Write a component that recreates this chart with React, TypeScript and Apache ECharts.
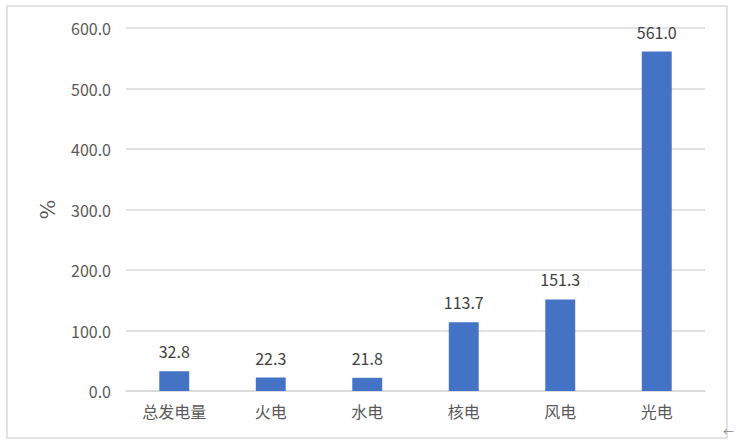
import React, { useEffect, useRef } from "react";
import * as echarts from "echarts";

const categories = ["总发电量", "火电", "水电", "核电", "风电", "光电"];
const values = [32.8, 22.3, 21.8, 113.7, 151.3, 561.0];
const yTicks = [0, 100, 200, 300, 400, 500, 600];

export default function App() {
  const ref = useRef<HTMLDivElement>(null);
  useEffect(() => {
    const chart = echarts.init(ref.current!, null, { renderer: "svg" });
    const font = "'Microsoft YaHei', 'Noto Sans CJK SC', sans-serif";
    chart.setOption({
      animation: false,
      backgroundColor: "#ffffff",
      graphic: [
        {
          type: "rect",
          shape: { x: 7, y: 6, width: 720, height: 432 },
          style: { fill: "none", stroke: "#d9d9d9", lineWidth: 1.5 },
          silent: true,
        },
        {
          type: "text",
          x: 723,
          y: 425,
          style: { text: "←", fill: "#8a8a8a", fontSize: 11, fontFamily: font },
        },
      ],
      grid: { left: 126, right: 32, top: 28, bottom: 54 },
      xAxis: {
        type: "category",
        data: categories,
        axisLine: { lineStyle: { color: "#d9d9d9", width: 1.5 } },
        axisTick: { show: false },
        axisLabel: { color: "#595959", fontSize: 16, fontFamily: font, margin: 12 },
      },
      yAxis: {
        type: "value",
        min: yTicks[0],
        max: yTicks[yTicks.length - 1],
        interval: 100,
        name: "%",
        nameLocation: "middle",
        nameGap: 68,
        nameTextStyle: { color: "#595959", fontSize: 21, fontFamily: "'DejaVu Serif', 'Liberation Serif', serif" },
        axisLine: { show: false },
        axisTick: { show: false },
        splitLine: { lineStyle: { color: "#d9d9d9", width: 1.5 } },
        axisLabel: {
          color: "#595959",
          fontSize: 16,
          fontFamily: font,
          margin: 15,
          formatter: (v: number) => v.toFixed(1),
        },
      },
      series: [
        {
          type: "bar",
          data: values,
          barWidth: "31%",
          itemStyle: { color: "#4472C4" },
          label: {
            show: true,
            position: "top",
            distance: 12,
            color: "#404040",
            fontSize: 16,
            fontFamily: font,
            formatter: (p: any) => Number(p.value).toFixed(1),
          },
        },
      ],
    });
    return () => chart.dispose();
  }, []);
  return (
    <div
      ref={ref}
      style={{ position: "fixed", left: 0, top: 0, width: 737, height: 445 }}
    />
  );
}
